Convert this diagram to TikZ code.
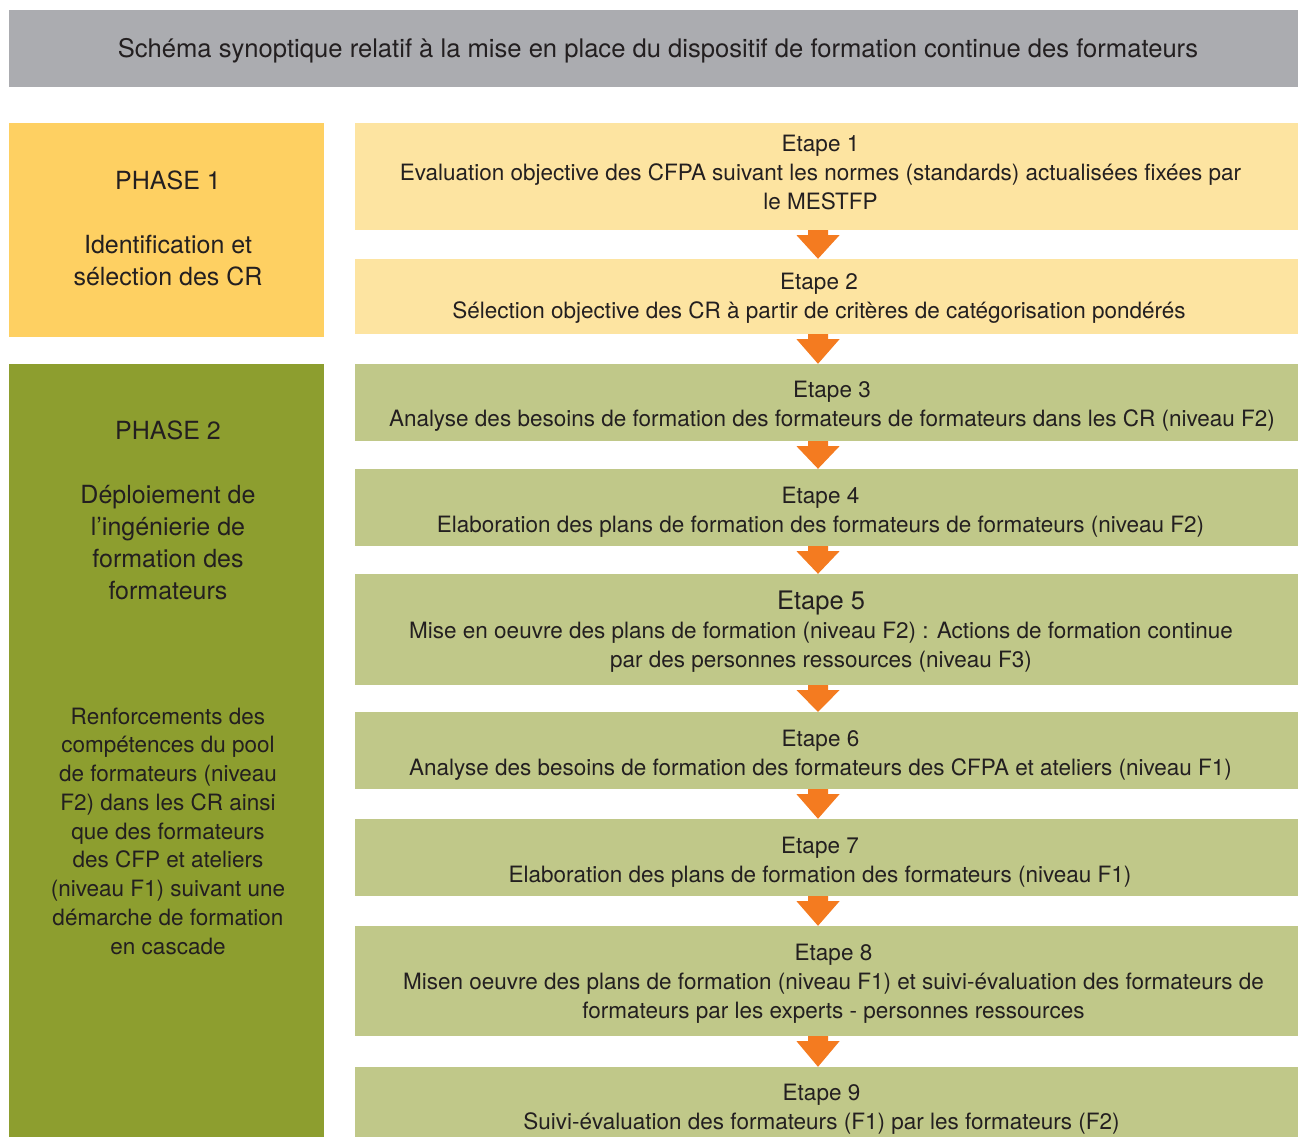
\documentclass[tikz,border=0pt]{standalone}
\usepackage{fontspec}
\setmainfont{TeX Gyre Heros}
\usetikzlibrary{calc}
\definecolor{titlegray}{HTML}{ABACB0}
\definecolor{phaseyellow}{HTML}{FED062}
\definecolor{phasegreen}{HTML}{8D9E2F}
\definecolor{stepyellow}{HTML}{FDE4A1}
\definecolor{stepgreen}{HTML}{C0C889}
\definecolor{arroworange}{HTML}{F47B20}
\definecolor{textcol}{HTML}{231F20}
\newcommand{\steparrow}[2]{%
  \fill[arroworange] ($(#1.south -| ax)+(-10,0)$) -- ($(#1.south -| ax)+(10,0)$)
    -- ($(#1.south -| ax)+(10,5)$) -- ($(#1.south -| ax)+(21.5,5)$)
    -- (#2.north -| ax)
    -- ($(#1.south -| ax)+(-21.5,5)$) -- ($(#1.south -| ax)+(-10,5)$) -- cycle;}
\begin{document}
\begin{tikzpicture}[x=1pt,y=-1pt,
  every node/.style={text=textcol},
  titlebox/.style={rectangle, fill=titlegray, inner sep=0pt, minimum width=1289, minimum height=77},
  titletext/.style={inner sep=0pt, font=\fontsize{25.6}{29}\selectfont},
  stepbox/.style={rectangle, inner sep=0pt, minimum width=943, minimum height=#1},
  ystep/.style={stepbox=#1, fill=stepyellow},
  gstep/.style={stepbox=#1, fill=stepgreen},
  steptext/.style={align=center, inner sep=0pt, font=\fontsize{22.5}{29}\selectfont},
  phasebox/.style={rectangle, inner sep=0pt, minimum width=315},
  phasetext/.style={align=center, inner sep=0pt, font=\fontsize{25}{32}\selectfont},
  phasesmall/.style={align=center, inner sep=0pt, font=\fontsize{22.5}{28.75}\selectfont}
]
\useasboundingbox (0,0) rectangle (1298,1137);
\begin{scope}
\clip (0,0) rectangle (1298,1137);
\node[titlebox] (title) at (653.5,48.5) {};
\node[titletext] (titlet) at ($(title.center)+(4.5,2.5)$) {Schéma synoptique relatif à la mise en place du dispositif de formation continue des formateurs};

\node[phasebox, fill=phaseyellow, minimum height=214] (p1) at (166.5,230) {};
\node[phasetext] (p1t) at ($(p1.center)+(1.5,-2)$) {PHASE 1\\[32pt]Identification et\\sélection des CR};
\node[phasebox, fill=phasegreen, minimum height=800] (p2) at (166.5,764) {};
\node[phasetext] (p2a) at (168,510) {PHASE 2\\[32pt]Déploiement de\\l’ingénierie de\\formation des\\formateurs};
\node[phasesmall] (p2b) at (168,831) {Renforcements des\\compétences du pool\\de formateurs (niveau\\F2) dans les CR ainsi\\que des formateurs\\des CFP et ateliers\\(niveau F1) suivant une\\démarche de formation\\en cascade};

\coordinate (ax) at (818,0);
\node[ystep=107] (s1) at (826.5,176.5) {};
\node[ystep=75] (s2) at (826.5,296.5) {};
\node[gstep=77] (s3) at (826.5,402.5) {};
\node[gstep=77] (s4) at (826.5,507.5) {};
\node[gstep=111] (s5) at (826.5,629.5) {};
\node[gstep=77] (s6) at (826.5,750.5) {};
\node[gstep=77] (s7) at (826.5,857.5) {};
\node[gstep=110] (s8) at (826.5,981) {};
\node[gstep=80] (s9) at (826.5,1107) {};

\node[steptext] (s1t) at (820.5,172.5) {Etape 1\\Evaluation objective des CFPA suivant les normes (standards) actualisées fixées par\\le MESTFP};
\node[steptext] (s2t) at (819,298.5) {Etape 2\\Sélection objective des CR à partir de critères de catégorisation pondérés};
\node[steptext] (s3t) at (832,406.5) {Etape 3\\Analyse des besoins de formation des formateurs de formateurs dans les CR (niveau F2)};
\node[steptext] (s4t) at (820.5,512.5) {Etape 4\\Elaboration des plans de formation des formateurs de formateurs (niveau F2)};
\node[steptext] (s5t) at (821,631.5) {{\fontsize{25.5}{29}\selectfont Etape 5}\\Mise en oeuvre des plans de formation (niveau F2) : Actions de formation continue\\par des personnes ressources (niveau F3)};
\node[steptext] (s6t) at (820.5,755.5) {Etape 6\\Analyse des besoins de formation des formateurs des CFPA et ateliers (niveau F1)};
\node[steptext] (s7t) at (820,862.5) {Etape 7\\Elaboration des plans de formation des formateurs (niveau F1)};
\node[steptext] (s8t) at (833.5,984) {Etape 8\\Misen oeuvre des plans de formation (niveau F1) et suivi-évaluation des formateurs de\\formateurs par les experts - personnes ressources};
\node[steptext] (s9t) at (821.5,1109.5) {Etape 9\\Suivi-évaluation des formateurs (F1) par les formateurs (F2)};

\steparrow{s1}{s2}
\steparrow{s2}{s3}
\steparrow{s3}{s4}
\steparrow{s4}{s5}
\steparrow{s5}{s6}
\steparrow{s6}{s7}
\steparrow{s7}{s8}
\steparrow{s8}{s9}
\end{scope}
\end{tikzpicture}
\end{document}
